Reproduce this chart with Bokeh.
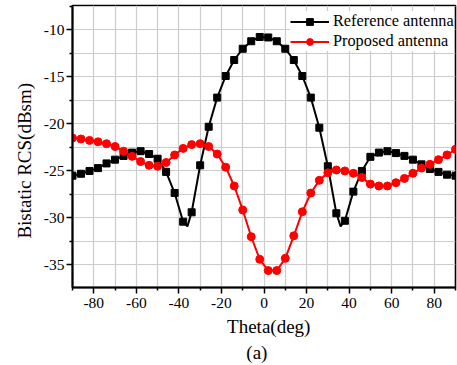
from bokeh.plotting import figure
from bokeh.models import FixedTicker, Range1d, Legend, Title, CustomJSTickFormatter
from bokeh.embed import file_html
from bokeh.resources import INLINE

# Reference antenna (line has extra notch points at -36 and 36 without markers)
ref_theta = [-90, -86, -82, -78, -74, -70, -66, -62, -58, -54, -50, -46, -42, -38, -36, -34,
             -30, -26, -22, -18, -14, -10, -6, -2, 2, 6, 10, 14, 18, 22, 26, 30, 34, 36,
             38, 42, 46, 50, 54, 58, 62, 66, 70, 74, 78, 82, 86, 90]
ref_rcs = [-25.5, -25.3, -25.0, -24.7, -24.2, -23.8, -23.4, -23.05, -22.9, -23.2, -23.7, -25.1,
           -27.35, -30.4, -30.9, -29.4, -24.4, -20.3, -17.2, -14.9, -13.2, -12.0, -11.2, -10.75,
           -10.8, -11.2, -12.0, -13.2, -14.9, -17.2, -20.4, -24.5, -29.5, -30.9, -30.3, -27.2,
           -25.0, -23.5, -23.05, -22.9, -23.1, -23.4, -23.8, -24.3, -24.8, -25.1, -25.4, -25.5]

# Proposed antenna
pro_theta = [-90, -86, -82, -78, -74, -70, -66, -62, -58, -54, -50, -46, -42, -38, -34, -30,
             -26, -22, -18, -14, -10, -6, -2, 2, 6, 10, 14, 18, 22, 26, 30, 34, 38, 42, 46,
             50, 54, 58, 62, 66, 70, 74, 78, 82, 86, 90]
pro_rcs = [-21.5, -21.6, -21.75, -21.9, -22.1, -22.4, -22.9, -23.45, -24.0, -24.4, -24.5, -24.1,
           -23.3, -22.6, -22.2, -22.1, -22.4, -23.2, -24.6, -26.6, -29.15, -32.0, -34.4, -35.6,
           -35.6, -34.3, -31.9, -29.35, -27.35, -26.0, -25.2, -24.9, -25.0, -25.25, -25.7, -26.4,
           -26.6, -26.6, -26.25, -25.8, -25.25, -24.7, -24.3, -23.8, -23.3, -22.7]

x_major = [-80, -60, -40, -20, 0, 20, 40, 60, 80]
x_minor = [-90, -70, -50, -30, -10, 10, 30, 50, 70, 90]
y_major = [-35, -30, -25, -20, -15, -10]
y_minor = [-37.5, -32.5, -27.5, -22.5, -17.5, -12.5, -7.5]

ref_mk_theta = [t for t in ref_theta if t % 4 == 2]
ref_mk_rcs = [v for t, v in zip(ref_theta, ref_rcs) if t % 4 == 2]

FONT = "Liberation Serif"
NB = "\u00a0"

p = figure(width=457, height=365, output_backend="svg", toolbar_location=None,
           x_range=Range1d(-90, 90), y_range=Range1d(-37.4, -7.4),
           min_border_left=72, min_border_right=2, min_border_top=5, min_border_bottom=78)
p.background_fill_color = "white"
p.border_fill_color = "white"
p.outline_line_color = "black"
p.outline_line_width = 1.6

for ax in (p.xaxis[0], p.yaxis[0]):
    ax.axis_line_width = 2
    ax.axis_line_color = "black"
    ax.major_tick_line_color = "black"
    ax.minor_tick_line_color = "black"
    ax.major_tick_line_width = 1.5
    ax.minor_tick_line_width = 1.5
    ax.major_tick_in = 0
    ax.minor_tick_in = 0
    ax.major_tick_out = 6
    ax.minor_tick_out = 3
    ax.major_label_text_font = FONT
    ax.major_label_text_font_size = "15.5px"
    ax.major_label_text_color = "black"
    ax.axis_label_text_font = FONT
    ax.axis_label_text_font_size = "19px"
    ax.axis_label_text_font_style = "normal"
    ax.axis_label_text_color = "black"
    ax.formatter = CustomJSTickFormatter(code="return tick.toString()")

p.xaxis[0].ticker = FixedTicker(ticks=x_major, minor_ticks=x_minor)
p.yaxis[0].ticker = FixedTicker(ticks=y_major, minor_ticks=y_minor)
p.xaxis[0].major_label_standoff = 4
p.yaxis[0].major_label_standoff = 2
p.xaxis[0].axis_label = NB * 2 + "Theta(deg)"
p.xaxis[0].axis_label_standoff = 5
p.yaxis[0].axis_label = "Bistatic RCS(dBsm)" + NB * 6
p.yaxis[0].axis_label_standoff = 6

for g in (p.xgrid[0], p.ygrid[0]):
    g.grid_line_color = "#cccccc"
    g.grid_line_width = 1.2
    g.minor_grid_line_color = "#cccccc"
    g.minor_grid_line_width = 1.2

l1 = p.line(ref_theta, ref_rcs, line_color="black", line_width=2)
m1 = p.scatter(ref_mk_theta, ref_mk_rcs, marker="square", size=7, fill_color="black", line_color="black")
l2 = p.line(pro_theta, pro_rcs, line_color="#ff0000", line_width=2)
m2 = p.scatter(pro_theta, pro_rcs, marker="circle", size=8, fill_color="#ff0000", line_color="#ff0000")

legend = Legend(items=[("Reference antenna", [l1, m1]), ("Proposed antenna", [l2, m2])],
                location=(218, 236))
legend.label_text_font = FONT
legend.label_text_font_size = "16.3px"
legend.label_text_color = "black"
legend.border_line_color = None
legend.background_fill_color = "white"
legend.background_fill_alpha = 1
legend.glyph_width = 39
legend.glyph_height = 17
legend.label_height = 17
legend.label_standoff = 4
legend.spacing = 0
legend.padding = 4
legend.margin = 0
p.add_layout(legend)

p.add_layout(Title(text="(a)" + NB * 3, align="center", text_font=FONT, text_font_size="19px",
                   text_font_style="normal", text_color="black", standoff=0), "below")

open("out.html", "w").write(file_html(p, INLINE))
